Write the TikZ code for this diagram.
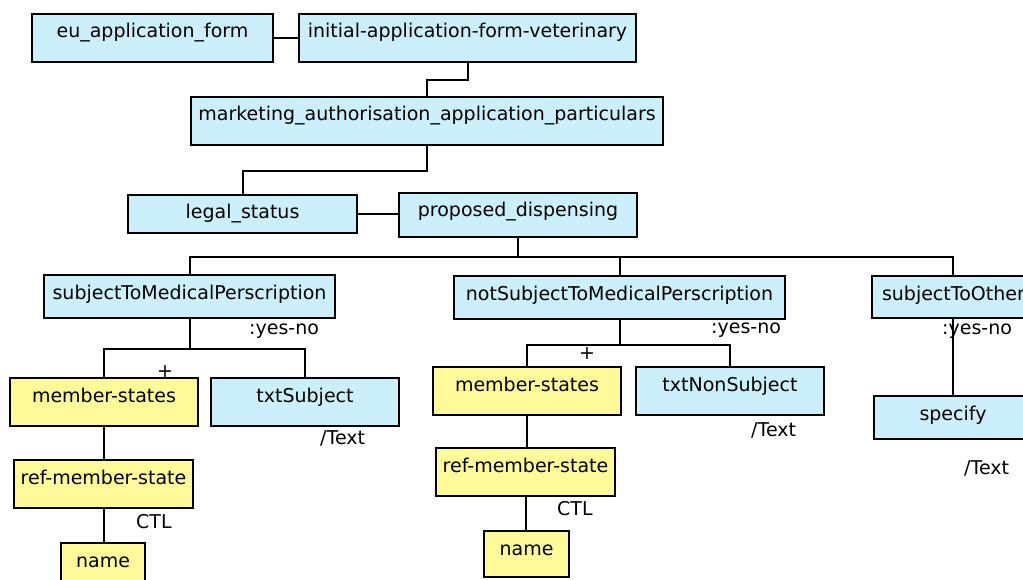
\documentclass[tikz,border=0pt]{standalone}
\usepackage{fontspec}
\setmainfont{DejaVu Sans}
\begin{document}
\begin{tikzpicture}[x=1pt,y=-1pt,
  bx/.style={draw=black, line width=2pt, anchor=north west, inner xsep=0pt, inner ysep=0pt,
     text height=24pt, font=\fontsize{19}{21}\selectfont, align=center},
  cy/.style={bx, fill=cyan!20},
  yl/.style={bx, fill=yellow!40},
  lbl/.style={anchor=base west, inner sep=0pt, font=\fontsize{19}{21}\selectfont},
  conn/.style={line width=2pt}]
\useasboundingbox (0,0) rectangle (1023,580);
\clip (0,0) rectangle (1023,580);
\fill[white] (0,0) rectangle (1023,580);
% level 1
\node[cy, minimum width=241pt, text depth=24pt] (eu) at (31,13) {eu\_application\_form};
\node[cy, minimum width=337pt, text depth=24pt] (init) at (298,13) {initial-application-form-veterinary};
\node[cy, minimum width=472pt, text depth=24pt] (mkt) at (190,96) {marketing\_authorisation\_application\_particulars};
\node[cy, minimum width=229pt, text depth=14pt] (legal) at (127,194) {legal\_status};
\node[cy, minimum width=238pt, text depth=20pt] (prop) at (398,192) {proposed\_dispensing};
% level 2
\node[cy, minimum width=291pt, text depth=19pt] (smp) at (43,274) {subjectToMedicalPerscription};
\node[cy, minimum width=331pt, text depth=19pt] (nsmp) at (453,275) {notSubjectToMedicalPerscription};
\node[cy, minimum width=162pt, text depth=18pt] (sto) at (871,275) {\makebox[162pt][l]{\hspace*{10pt}subjectToOther}};
% smp subtree
\node[yl, minimum width=188pt, text depth=24pt] (ms1) at (9,377) {member-states};
\node[cy, minimum width=188pt, text depth=24pt] (txs) at (210,377) {txtSubject};
\node[yl, minimum width=179pt, text depth=24pt] (ref1) at (13,459) {ref-member-state};
\node[yl, minimum width=84pt, text depth=20pt] (nm1) at (60,542) {name};
% nsmp subtree
\node[yl, minimum width=188pt, text depth=24pt] (ms2) at (432,366) {member-states};
\node[cy, minimum width=188pt, text depth=24pt] (txn) at (635,366) {txtNonSubject};
\node[yl, minimum width=179pt, text depth=24pt] (ref2) at (435,447) {ref-member-state};
\node[yl, minimum width=85pt, text depth=22pt] (nm2) at (483,530) {name};
% sto subtree
\node[cy, minimum width=158pt, text depth=19pt] (spec) at (873,395) {specify};
% labels
\node[lbl] (l1) at (249,334) {:yes-no};
\node[lbl] (l2) at (711,333) {:yes-no};
\node[lbl] (l3) at (942,334) {:yes-no};
\node[lbl] (p1) at (157,377) {+};
\node[lbl] (p2) at (579,359) {+};
\node[lbl] (t1) at (320,444) {/Text};
\node[lbl] (t2) at (751,436) {/Text};
\node[lbl] (t3) at (964,474) {/Text};
\node[lbl] (c1) at (136,528) {CTL};
\node[lbl] (c2) at (557,515) {CTL};
% connectors
\draw[conn] (eu.east) -- (init.west);
\draw[conn] (init.south) -- ++(0,17) -| (mkt.north);
\draw[conn] (mkt.south) -- ++(0,25) -| (legal.north);
\draw[conn] (legal.east) -- (legal.east -| prop.west);
\draw[conn] (prop.south) -- ++(0,19) -| (smp.north);
\draw[conn] (prop.south) -- ++(0,19) -| (nsmp.north);
\draw[conn] (prop.south) -- ++(0,19) -| (sto.north);
\draw[conn] (smp.south) -- ++(0,30) -| (ms1.north);
\draw[conn] (smp.south) -- ++(0,30) -| (txs.north);
\draw[conn] (ms1.south) -- (ms1.south |- ref1.north);
\draw[conn] (ref1.south) -- (ref1.south |- nm1.north);
\draw[conn] (nsmp.south) -- ++(0,25) -| (ms2.north);
\draw[conn] (nsmp.south) -- ++(0,25) -| (txn.north);
\draw[conn] (ms2.south) -- (ms2.south |- ref2.north);
\draw[conn] (ref2.south) -- (ref2.south |- nm2.north);
\draw[conn] (sto.south) -- (sto.south |- spec.north);
\end{tikzpicture}
\end{document}
